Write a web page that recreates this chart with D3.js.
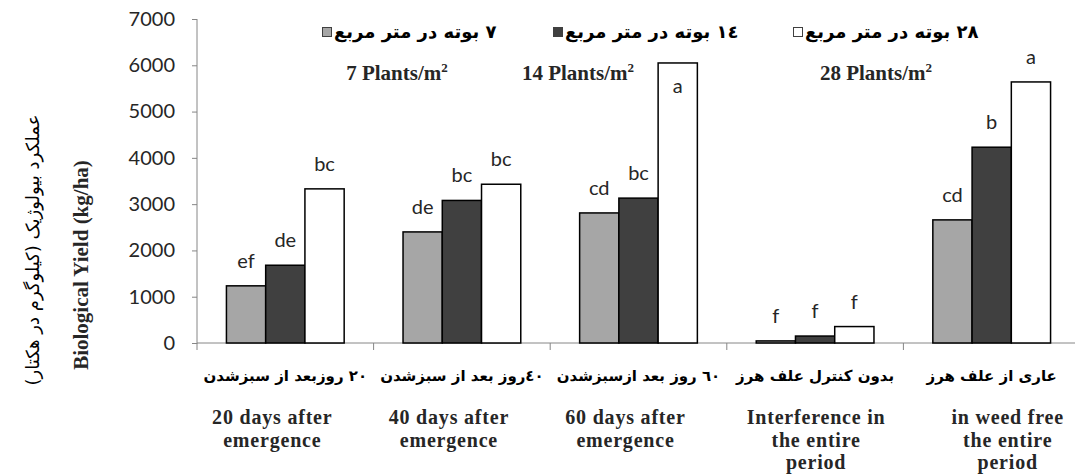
<!DOCTYPE html>
<html>
<head>
<meta charset="utf-8">
<script src="https://cdn.jsdelivr.net/npm/d3@7"></script>
<style>
	html, body { margin: 0; padding: 0; background: white; }
	#outer { width: 1075px; height: 475px; }
</style>
</head>
<body>
<div id="outer"></div>
<script>

////////// Data //////////
const categories = ['٢٠ روزبعد از سبزشدن', '٤٠روز بعد از سبزشدن', '٦٠ روز بعد ازسبزشدن', 'بدون کنترل علف هرز', 'عاری از علف هرز'];
const categoriesEn = [
	['20 days after', 'emergence'],
	['40 days after', 'emergence'],
	['60 days after', 'emergence'],
	['Interference in', 'the entire', 'period'],
	['in  weed free', 'the entire', 'period']
];
const seriesNames = ['٧ بوته در متر مربع', '١٤ بوته در متر مربع', '٢٨ بوته در متر مربع'];
const seriesNamesEn = ['7 Plants/m', '14 Plants/m', '28 Plants/m'];
const plants7 = [1235, 2400, 2810, 45, 2660];
const plants14 = [1680, 3080, 3130, 150, 4230];
const plants28 = [3330, 3430, 6050, 355, 5640];
const letters7 = ['ef', 'de', 'cd', 'f', 'cd'];
const letters14 = ['de', 'bc', 'bc', 'f', 'b'];
const letters28 = ['bc', 'bc', 'a', 'f', 'a'];
const yTicks = [0, 1000, 2000, 3000, 4000, 5000, 6000, 7000];
const yTitleFa = 'عملکرد بیولوژیک (کیلوگرم در هکتار)';
const yTitleEn = 'Biological Yield (kg/ha)';


function drawChart () {

	////////// Hard Coded Defs //////////
	const width = 1075;
	const height = 475;
	const plot = {left: 197, right: 1080, top: 19, bottom: 343};
	const barColors = ['#a6a6a6', '#404040', '#ffffff'];
	const axisColor = '#868686';
	const textColor = '#262626';
	const faFont = '"DejaVu Sans", sans-serif';
	const enFont = '"Liberation Serif", "Times New Roman", serif';
	const numFont = 'Lato, "Open Sans", sans-serif';
	// hand placed text boxes from the original figure
	const legendMarkerX = [322, 553, 793];
	const legendEnX = [397, 578, 876];
	const enLabelNudge = [-13, -13, -13, 1, 16];

	const series = [plants7, plants14, plants28];
	const letters = [letters7, letters14, letters28];

	const svg = d3.select('#outer').append('svg')
		.attr('width', width)
		.attr('height', height)
		.style('background', 'white');

	// ********************************************* SCALES ******************************************************* //
	const x = d3.scaleBand()
		.domain(categories)
		.range([plot.left, plot.right])
		.paddingInner(0)
		.paddingOuter(0);
	const xInner = d3.scaleBand()
		.domain(d3.range(series.length))
		.range([0, x.bandwidth()])
		.paddingInner(0)
		.paddingOuter(0.75);
	const y = d3.scaleLinear()
		.domain([0, 7000])
		.range([plot.bottom, plot.top]);

	// ********************************************* AXES ******************************************************* //
	const yAxis = svg.append('g')
		.attr('class', 'yAxis')
		.attr('transform', `translate(${plot.left}, 0)`)
		.call(d3.axisLeft(y).tickValues(yTicks).tickSize(5).tickPadding(17).tickFormat(d3.format('d')));
	yAxis.select('.domain').attr('stroke', axisColor).attr('d', `M0,${plot.bottom + 0.5}V${plot.top}`);
	yAxis.selectAll('.tick line').attr('stroke', axisColor);
	yAxis.selectAll('.tick text')
		.style('font', `20px ${numFont}`)
		.attr('fill', textColor);

	const xAxis = svg.append('g')
		.attr('class', 'xAxis')
		.attr('transform', `translate(0, ${plot.bottom})`);
	xAxis.append('line')
		.attr('x1', plot.left)
		.attr('x2', width)
		.attr('stroke', axisColor);
	xAxis.selectAll('.sep')
		.data(categories.concat([null]))
		.join('line')
		.attr('class', 'sep')
		.attr('x1', (d, i) => plot.left + i * x.step())
		.attr('x2', (d, i) => plot.left + i * x.step())
		.attr('y2', 7)
		.attr('stroke', axisColor);

	// persian category labels
	xAxis.selectAll('.catFa')
		.data(categories)
		.join('text')
		.attr('class', 'catFa')
		.attr('x', d => x(d) + x.bandwidth() / 2)
		.attr('y', 38)
		.attr('text-anchor', 'middle')
		.attr('direction', 'rtl')
		.style('font', `bold 15px ${faFont}`)
		.attr('fill', 'black')
		.text(d => d);

	// english category labels
	const catEn = xAxis.selectAll('.catEn')
		.data(categories)
		.join('text')
		.attr('class', 'catEn')
		.attr('text-anchor', 'middle')
		.style('font', `bold 20px ${enFont}`)
		.style('letter-spacing', '0.8px')
		.attr('fill', textColor);
	catEn.selectAll('tspan')
		.data((d, i) => categoriesEn[i].map(line => ({line, i})))
		.join('tspan')
		.attr('x', d => x(categories[d.i]) + x.bandwidth() / 2 + enLabelNudge[d.i])
		.attr('y', (d, j) => 81 + j * 22.5)
		.text(d => d.line);

	// ********************************************* BARS ******************************************************* //
	const groups = svg.append('g').attr('class', 'bars')
		.selectAll('g')
		.data(series)
		.join('g')
		.attr('fill', (d, s) => barColors[s]);

	groups.selectAll('rect')
		.data((vals, s) => vals.map((v, i) => ({v, i, s})))
		.join('rect')
		.attr('x', d => x(categories[d.i]) + xInner(d.s))
		.attr('y', d => y(d.v))
		.attr('width', xInner.bandwidth())
		.attr('height', d => y(0) - y(d.v))
		.attr('stroke', 'black')
		.attr('stroke-width', 1.5);

	// letters of significance
	groups.selectAll('text')
		.data((vals, s) => vals.map((v, i) => ({v, i, s})))
		.join('text')
		.attr('x', d => x(categories[d.i]) + xInner(d.s) + xInner.bandwidth() / 2)
		.attr('y', d => d.v > 6000 ? y(d.v) + 30 : y(d.v) - 18)
		.attr('text-anchor', 'middle')
		.style('font', `20px ${numFont}`)
		.attr('fill', textColor)
		.text(d => letters[d.s][d.i]);

	// ********************************************* LEGEND ******************************************************* //
	const legend = svg.append('g').attr('class', 'legend');
	const items = legend.selectAll('g')
		.data(seriesNames)
		.join('g')
		.attr('transform', (d, i) => `translate(${legendMarkerX[i]}, 0)`);
	items.append('rect')
		.attr('x', 0.5)
		.attr('y', 27.5)
		.attr('width', 9)
		.attr('height', 9)
		.attr('fill', (d, i) => barColors[i])
		.attr('stroke', '#404040')
		.attr('stroke-width', 1);
	items.append('text')
		.attr('x', 12)
		.attr('y', 38)
		.attr('text-anchor', 'end')
		.attr('direction', 'rtl')
		.style('font', `bold 18px ${faFont}`)
		.attr('fill', 'black')
		.text(d => d);

	const legendEn = legend.selectAll('.legEn')
		.data(seriesNamesEn)
		.join('text')
		.attr('class', 'legEn')
		.attr('x', (d, i) => legendEnX[i])
		.attr('y', 80)
		.attr('text-anchor', 'middle')
		.style('font', `bold 21px ${enFont}`)
		.attr('fill', textColor);
	legendEn.append('tspan').text(d => d);
	legendEn.append('tspan')
		.attr('dy', -8)
		.style('font-size', '13px')
		.text('2');

	// ********************************************* AXIS TITLES ******************************************************* //
	svg.append('text')
		.attr('transform', 'translate(39, 250) rotate(-90)')
		.attr('text-anchor', 'middle')
		.attr('direction', 'rtl')
		.style('font', `18px ${faFont}`)
		.attr('fill', 'black')
		.text(yTitleFa);
	svg.append('text')
		.attr('transform', 'translate(88, 265) rotate(-90)')
		.attr('text-anchor', 'middle')
		.style('font', `bold 21px ${enFont}`)
		.attr('fill', textColor)
		.text(yTitleEn);
}

drawChart();
</script>
</body>
</html>
